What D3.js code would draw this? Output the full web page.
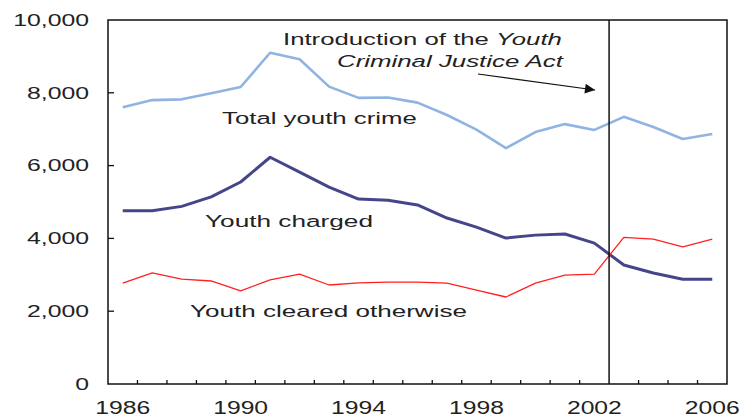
<!DOCTYPE html>
<html>
<head>
<meta charset="utf-8">
<script src="https://cdn.jsdelivr.net/npm/d3@7"></script>
<style>
html,body{margin:0;padding:0;background:#fff;}
svg{display:block;}
text{font-family:"Liberation Sans",Arial,sans-serif;fill:#222;}
</style>
</head>
<body>
<svg id="chart" width="741" height="420"></svg>
<script>
const years = ["1986","1987","1988","1989","1990","1991","1992","1993","1994","1995","1996","1997","1998","1999","2000","2001","2002","2003","2004","2005","2006"];
const totalYouthCrime = [7600,7800,7820,7990,8160,9100,8920,8170,7860,7870,7730,7390,6990,6480,6920,7140,6980,7340,7060,6730,6870];
const youthCharged = [4760,4760,4880,5140,5550,6230,5820,5410,5080,5050,4920,4560,4310,4010,4090,4120,3870,3270,3050,2880,2880];
const youthClearedOtherwise = [2770,3050,2880,2830,2560,2860,3020,2720,2780,2800,2800,2770,2580,2390,2770,2990,3020,4030,3980,3770,3980];
const yTicks = [0,2000,4000,6000,8000,10000];
const xLabelYears = ["1986","1990","1994","1998","2002","2006"];
const actYear = "2003";

const svg = d3.select("#chart");
const L = 108, R = 727, T = 20, B = 384;
const x = d3.scaleBand().domain(years).range([L, R]).padding(0);
const y = d3.scaleLinear().domain([0, 10000]).range([B, T]);
const cx = d => x(d) + x.bandwidth() / 2;

function stretchText(parts, x0, base, width, size) {
  const g = svg.append("g");
  const t = g.append("text").attr("font-size", size);
  parts.forEach(p => t.append("tspan").text(p.t).attr("font-style", p.i ? "italic" : "normal"));
  const w = t.node().getComputedTextLength();
  g.attr("transform", `translate(${x0},${base}) scale(${width / w},1)`);
  return g;
}
function stretchAnchored(str, xpos, base, sx, size, anchor) {
  const g = svg.append("g").attr("transform", `translate(${xpos},${base}) scale(${sx},1)`);
  g.append("text").attr("font-size", size).attr("text-anchor", anchor).text(str);
}

const line = d3.line().x((d, i) => cx(years[i])).y(d => y(d));
svg.append("path").datum(totalYouthCrime).attr("d", line)
  .attr("fill", "none").attr("stroke", "#8fb4e3").attr("stroke-width", 2.6).attr("stroke-linejoin", "round");
svg.append("path").datum(youthCharged).attr("d", line)
  .attr("fill", "none").attr("stroke", "#45458a").attr("stroke-width", 3).attr("stroke-linejoin", "round");
svg.append("path").datum(youthClearedOtherwise).attr("d", line)
  .attr("fill", "none").attr("stroke", "#ff2020").attr("stroke-width", 1.3).attr("stroke-linejoin", "round");

svg.append("rect").attr("x", L).attr("y", T).attr("width", R - L).attr("height", B - T)
  .attr("fill", "none").attr("stroke", "#111").attr("stroke-width", 1.5);

svg.append("line").attr("x1", x(actYear)).attr("x2", x(actYear)).attr("y1", T).attr("y2", B)
  .attr("stroke", "#111").attr("stroke-width", 1.5);

yTicks.forEach(v => {
  if (v > 0 && v < 10000)
    svg.append("line").attr("x1", L).attr("x2", L + 6).attr("y1", y(v)).attr("y2", y(v))
      .attr("stroke", "#111").attr("stroke-width", 1.3);
  stretchAnchored(d3.format(",")(v), 89, y(v) + 5.8, 1.55, 16, "end");
});

years.slice(1).forEach(yr => {
  if (yr === actYear) return;
  svg.append("line").attr("x1", x(yr)).attr("x2", x(yr)).attr("y1", B).attr("y2", B - 4)
    .attr("stroke", "#111").attr("stroke-width", 1.3);
});
xLabelYears.forEach(yr => stretchAnchored(yr, cx(yr), 414, 1.3, 19, "middle"));

stretchText([{t: "Introduction of the "}, {t: "Youth", i: true}], 283, 45, 279, 17);
stretchText([{t: "Criminal Justice Act", i: true}], 337, 67, 226, 17);
stretchText([{t: "Total youth crime"}], 222, 124, 195, 17);
stretchText([{t: "Youth charged"}], 205, 227, 168, 17);
stretchText([{t: "Youth cleared otherwise"}], 190, 317, 277, 17);

svg.append("defs").append("marker").attr("id", "ah").attr("viewBox", "0 0 10 10")
  .attr("refX", 10).attr("refY", 5).attr("markerWidth", 15).attr("markerHeight", 10)
  .attr("markerUnits", "userSpaceOnUse").attr("orient", "auto")
  .append("path").attr("d", "M0,0 L10,5 L0,10 z").attr("fill", "#111");
svg.append("line").attr("x1", 478).attr("y1", 74).attr("x2", 595).attr("y2", 90)
  .attr("stroke", "#111").attr("stroke-width", 1.2).attr("marker-end", "url(#ah)");
</script>
</body>
</html>
